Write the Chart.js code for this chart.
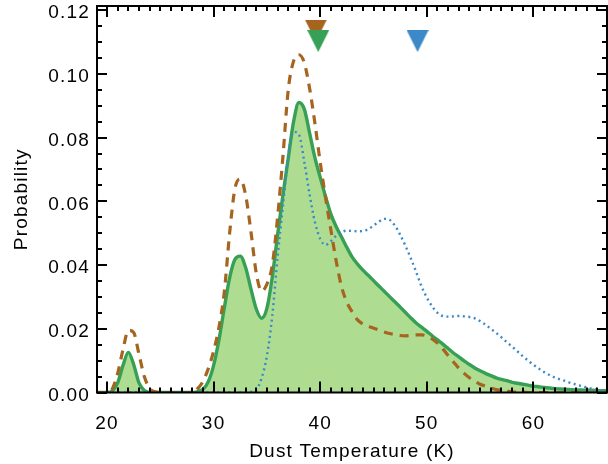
<!DOCTYPE html>
<html>
<head>
<meta charset="utf-8">
<script src="https://cdn.jsdelivr.net/npm/chart.js@4"></script>
<style>
  html, body { margin: 0; padding: 0; background: #ffffff; }
  #wrap { width: 608px; height: 464px; }
</style>
</head>
<body>
<div id="wrap"><canvas id="c" width="608" height="464"></canvas></div>
<script>
// ---- data ----
const temps = [];
for (let t = 19; t <= 67; t += 0.5) temps.push(t);

const greenVals = [
  0, 0, 0, 0.0005, 0.003, 0.0085, 0.0126, 0.0088, 0.003, 0.0006,
  0, 0, 0, 0, 0, 0, 0, 0, 0,
  0.0003, 0.0010, 0.0034, 0.0085, 0.0165, 0.0265, 0.0360, 0.0418, 0.0428, 0.0392, 0.0325,
  0.0262, 0.0233, 0.0265, 0.0362, 0.0495, 0.0620, 0.0735, 0.0850, 0.0910, 0.0890,
  0.0815, 0.0737, 0.0675, 0.0615, 0.0560, 0.0520, 0.0488, 0.0455, 0.0425, 0.0403,
  0.0384, 0.0368, 0.0351, 0.0334, 0.0318, 0.0301, 0.0285, 0.0268, 0.0251, 0.0234,
  0.0218, 0.0205, 0.0192, 0.0178, 0.0165, 0.0152, 0.0138, 0.0124, 0.0112, 0.0099,
  0.0088, 0.0077, 0.0068, 0.0060, 0.0053, 0.0046, 0.0041, 0.0037, 0.0032, 0.0029,
  0.0026, 0.0023, 0.0020, 0.0018, 0.0016, 0.0014, 0.0012, 0.0011, 0.0010, 0.0009,
  0.0008, 0.0008, 0.0007, 0.0007, 0.0006, 0.0006, 0.0005
];

const brownVals = [
  0, 0, 0, 0.0012, 0.006, 0.0135, 0.0195, 0.0188, 0.0120, 0.0050,
  0.0013, 0.0002, 0, 0, 0, 0, 0, 0, 0,
  0.0012, 0.0035, 0.0075, 0.0130, 0.0205, 0.0315, 0.0500, 0.0640, 0.0670, 0.0620, 0.0505,
  0.0375, 0.0318, 0.0340, 0.0400, 0.0550, 0.0740, 0.0950, 0.1040, 0.1060, 0.1035,
  0.0955, 0.0845, 0.0722, 0.0612, 0.0510, 0.0412, 0.0332, 0.0283, 0.0253, 0.0228,
  0.0215, 0.0208, 0.0202, 0.0196, 0.0190, 0.0185, 0.0182, 0.0179, 0.0178, 0.0179,
  0.0181, 0.0181, 0.0177, 0.0168, 0.0155, 0.0137, 0.0116, 0.0096, 0.0076, 0.0060,
  0.0046, 0.0035, 0.0026, 0.0020, 0.0014, 0.0009, 0.0006, 0.0004, 0.0002, 0.0001,
  0.0001, 0, 0, 0, 0, 0, 0, 0, 0, 0,
  0, 0, 0, 0, 0, 0, 0
];

const blueVals = [
  0, 0, 0, 0, 0, 0, 0, 0, 0, 0,
  0, 0, 0, 0, 0, 0, 0, 0, 0,
  0, 0, 0, 0, 0, 0, 0, 0, 0, 0, 0.0002,
  0.0009, 0.0045, 0.0115, 0.0240, 0.0425, 0.0585, 0.0745, 0.0818, 0.0810, 0.0725,
  0.0622, 0.0535, 0.0482, 0.0463, 0.0475, 0.0492, 0.0503, 0.0508, 0.0507, 0.0506,
  0.0507, 0.0512, 0.0524, 0.0536, 0.0545, 0.0542, 0.0524, 0.0495, 0.0460, 0.0421,
  0.0378, 0.0333, 0.0298, 0.0270, 0.0250, 0.0240, 0.0238, 0.0239, 0.0240, 0.0239,
  0.0237, 0.0233, 0.0224, 0.0213, 0.0200, 0.0187, 0.0173, 0.0158, 0.0144, 0.0129,
  0.0114, 0.0100, 0.0087, 0.0075, 0.0064, 0.0055, 0.0047, 0.0041, 0.0036, 0.0030,
  0.0025, 0.0020, 0.0016, 0.0012, 0.0009, 0.0006, 0.0004
];

const markerTemps = [39.59, 39.81, 49.13];
const markerProbs = [0.1136, 0.1103, 0.1103];
const markerColors = ['#a6651f', '#36a056', '#3b89c8'];

const xTickValues = [20, 30, 40, 50, 60];
const yTickValues = [0, 0.02, 0.04, 0.06, 0.08, 0.10, 0.12];
const xTitle = 'Dust Temperature (K)';
const yTitle = 'Probability';

// ---- helpers ----
function toXY(ys) { return temps.map((t, i) => ({ x: t, y: ys[i] })); }
function triangleImage(color) {
  const c = document.createElement('canvas');
  c.width = 22; c.height = 22;
  const g = c.getContext('2d');
  g.fillStyle = color;
  g.beginPath();
  g.moveTo(0, 0); g.lineTo(22, 0); g.lineTo(11, 22); g.closePath();
  g.fill();
  return c;
}
function zeroPadding(s) {
  s.paddingTop = 0; s.paddingBottom = 0; s.paddingLeft = 0; s.paddingRight = 0;
}

const FONT = "'Liberation Sans', Arial, Helvetica, sans-serif";
const FSIZE = 19;

const frameTicks = {
  id: 'frameTicks',
  beforeDraw(chart) { chart.ctx.letterSpacing = '1.2px'; },
  afterDatasetsDraw(chart) {
    const { ctx, chartArea: a, scales: { x, y } } = chart;
    ctx.save();
    ctx.letterSpacing = '0px';
    ctx.strokeStyle = '#000';
    ctx.lineWidth = 2;
    ctx.beginPath();
    for (let v = Math.ceil(x.min); v <= x.max; v += 1) {
      const px = Math.round(x.getPixelForValue(v));
      const len = (v % 10 === 0) ? 11 : 5;
      ctx.moveTo(px, a.bottom); ctx.lineTo(px, a.bottom - len);
      ctx.moveTo(px, a.top); ctx.lineTo(px, a.top + len);
    }
    for (let k = 0; k * 0.005 <= y.max + 1e-9; k++) {
      const v = k * 0.005;
      const py = Math.round(y.getPixelForValue(v));
      const len = (k % 4 === 0) ? 10 : 5;
      ctx.moveTo(a.left, py); ctx.lineTo(a.left + len, py);
      ctx.moveTo(a.right, py); ctx.lineTo(a.right - len, py);
    }
    ctx.stroke();
    ctx.strokeRect(a.left, a.top, a.right - a.left, a.bottom - a.top);
    ctx.restore();
  }
};

new Chart(document.getElementById('c'), {
  type: 'line',
  data: {
    datasets: [
      {
        label: 'markers',
        type: 'scatter',
        data: markerTemps.map((t, i) => ({ x: t, y: markerProbs[i] })),
        pointStyle: markerColors.map(triangleImage),
        pointRadius: 11,
        showLine: false,
        order: 0
      },
      {
        label: 'brown',
        data: toXY(brownVals),
        borderColor: '#a6651f',
        borderWidth: 3.2,
        borderDash: [9, 7],
        pointRadius: 0,
        fill: false,
        cubicInterpolationMode: 'monotone',
        order: 1
      },
      {
        label: 'blue',
        data: toXY(blueVals),
        borderColor: '#3b89c8',
        borderWidth: 2.4,
        borderDash: [2, 3.5],
        pointRadius: 0,
        fill: false,
        cubicInterpolationMode: 'monotone',
        order: 2
      },
      {
        label: 'green',
        data: toXY(greenVals),
        borderColor: '#36a056',
        borderWidth: 3.4,
        pointRadius: 0,
        fill: false,
        cubicInterpolationMode: 'monotone',
        order: 3
      },
      {
        label: 'greenFill',
        data: toXY(greenVals),
        borderWidth: 0,
        borderColor: 'rgba(0,0,0,0)',
        backgroundColor: '#aedd91',
        pointRadius: 0,
        fill: 'origin',
        cubicInterpolationMode: 'monotone',
        order: 4
      }
    ]
  },
  options: {
    responsive: false,
    animation: false,
    devicePixelRatio: 1,
    layout: { autoPadding: false, padding: { top: 6, right: 1, left: 0, bottom: 0 } },
    plugins: { legend: { display: false }, tooltip: { enabled: false } },
    scales: {
      x: {
        type: 'linear',
        min: 19.06,
        max: 66.9,
        grid: { display: false, drawTicks: false },
        border: { display: false },
        afterFit(s) { s.height = 71.5; zeroPadding(s); },
        afterBuildTicks(s) { s.ticks = xTickValues.map(v => ({ value: v })); },
        ticks: {
          color: '#000',
          padding: 20,
          maxRotation: 0,
          autoSkip: false,
          font: { family: FONT, size: FSIZE },
          callback: v => String(v)
        },
        title: {
          display: true,
          text: xTitle,
          color: '#000',
          font: { family: FONT, size: FSIZE },
          padding: { top: 0, bottom: 1 }
        }
      },
      y: {
        type: 'linear',
        min: 0,
        max: 0.1213,
        grid: { display: false, drawTicks: false },
        border: { display: false },
        afterFit(s) { s.width = 97; zeroPadding(s); },
        afterBuildTicks(s) { s.ticks = yTickValues.map(v => ({ value: v })); },
        ticks: {
          color: '#000',
          padding: 7,
          labelOffset: 3,
          autoSkip: false,
          font: { family: FONT, size: FSIZE },
          callback: v => Number(v).toFixed(2)
        },
        title: {
          display: true,
          text: yTitle,
          color: '#000',
          font: { family: FONT, size: FSIZE },
          padding: { top: 10, bottom: 0 }
        }
      }
    }
  },
  plugins: [frameTicks]
});
</script>
</body>
</html>
